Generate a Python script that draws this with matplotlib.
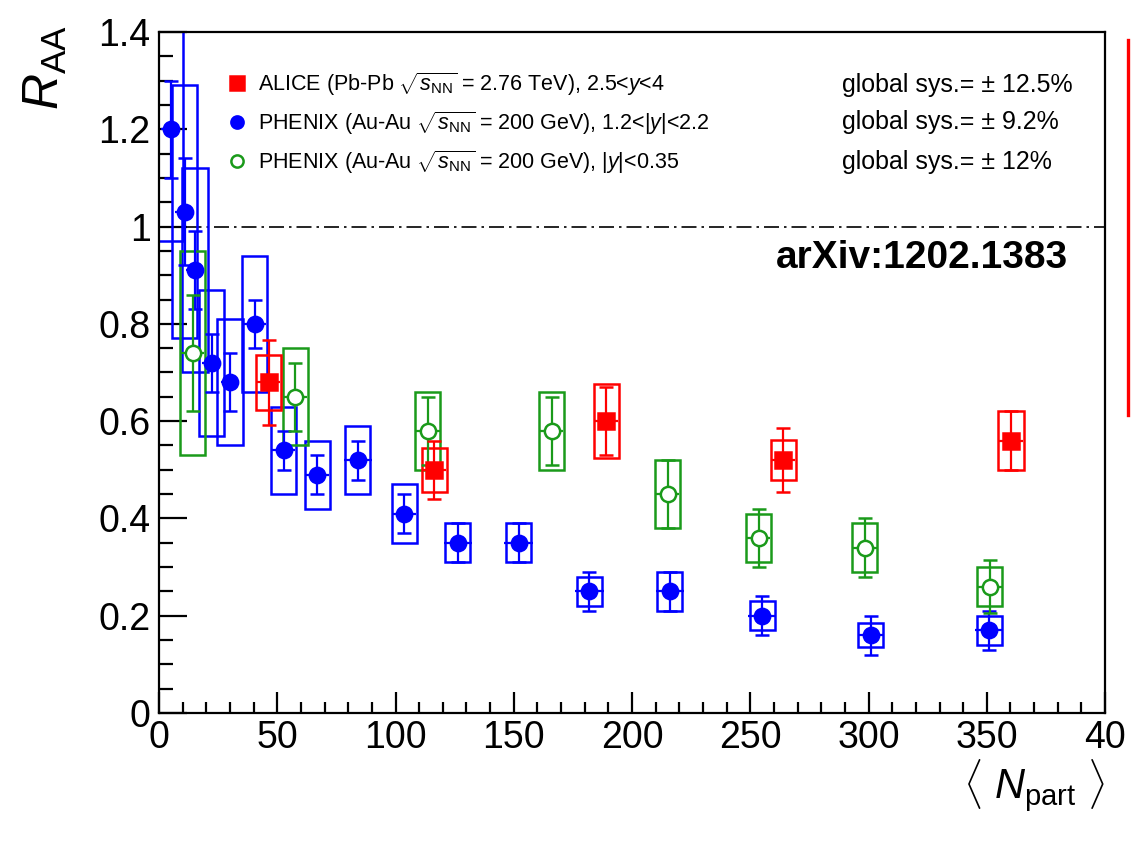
import matplotlib
matplotlib.use('Agg')
import matplotlib.pyplot as plt
from matplotlib.lines import Line2D
from matplotlib.ticker import MultipleLocator
import numpy as np

plt.rcParams['font.family'] = ['Liberation Sans', 'DejaVu Sans']
plt.rcParams['mathtext.fontset'] = 'custom'
plt.rcParams['mathtext.rm'] = 'Liberation Sans'
plt.rcParams['mathtext.it'] = 'Liberation Sans:italic'
plt.rcParams['mathtext.bf'] = 'Liberation Sans:bold'

# ALICE (Pb-Pb 2.76 TeV), 2.5<y<4
alice_npart = [46.3, 116.4, 189.0, 264.0, 360.2]
alice_raa = [0.68, 0.50, 0.60, 0.52, 0.56]
alice_stat = [0.087, 0.06, 0.07, 0.066, 0.06]
alice_sys = [0.057, 0.045, 0.076, 0.042, 0.06]
alice_xerr = [5, 5, 5, 5, 5]

# PHENIX (Au-Au 200 GeV), 1.2<|y|<2.2
fwd_npart = [5.0, 10.8, 15.2, 22.2, 30.0, 40.4, 52.7, 67.0, 84.0, 103.7,
             126.3, 152.0, 182.0, 216.0, 255.0, 301.0, 351.0]
fwd_raa = [1.20, 1.03, 0.91, 0.72, 0.68, 0.80, 0.54, 0.49, 0.52, 0.41,
           0.35, 0.35, 0.25, 0.25, 0.20, 0.16, 0.17]
fwd_stat = [0.10, 0.11, 0.08, 0.06, 0.06, 0.05, 0.04, 0.04, 0.04, 0.04,
            0.04, 0.04, 0.04, 0.04, 0.04, 0.04, 0.04]
fwd_sys = [0.23, 0.26, 0.21, 0.15, 0.13, 0.14, 0.09, 0.07, 0.07, 0.06,
           0.04, 0.04, 0.03, 0.04, 0.03, 0.025, 0.03]
fwd_xerr = [4, 4, 4, 4, 4, 5, 5, 5, 6, 5, 6, 6, 6, 6, 6, 5, 6]

# PHENIX (Au-Au 200 GeV), |y|<0.35
mid_npart = [14.2, 57.6, 113.7, 166.0, 215.0, 253.5, 298.4, 351.3]
mid_raa = [0.74, 0.65, 0.58, 0.58, 0.45, 0.36, 0.34, 0.26]
mid_stat = [0.12, 0.07, 0.07, 0.07, 0.07, 0.06, 0.06, 0.055]
mid_sys = [0.21, 0.10, 0.08, 0.08, 0.07, 0.05, 0.05, 0.04]
mid_xerr = [5, 5, 5, 5, 5, 5, 5, 5]

labels = [r'ALICE (Pb-Pb $\sqrt{s_{\rm NN}}$ = 2.76 TeV), 2.5<$y$<4',
          r'PHENIX (Au-Au $\sqrt{s_{\rm NN}}$ = 200 GeV), 1.2<|$y$|<2.2',
          r'PHENIX (Au-Au $\sqrt{s_{\rm NN}}$ = 200 GeV), |$y$|<0.35']
global_sys = ['global sys.= ± 12.5%', 'global sys.= ± 9.2%', 'global sys.= ± 12%']

BOX_HW = 5.3
GREEN = '#1a9a1a'


def draw(ax, x, y, stat, sys, xerr, color, marker, ms, mfc):
    y = np.array(y)
    sys = np.array(sys)
    ax.bar(x, 2 * sys, width=2 * BOX_HW, bottom=y - sys, fill=False,
           edgecolor=color, linewidth=1.8, zorder=2)
    ax.errorbar(x, y, xerr=xerr, fmt='none', ecolor=color, elinewidth=1.6, zorder=3)
    eb = ax.errorbar(x, y, yerr=stat, fmt=marker, color=color, ms=ms, mfc=mfc,
                     mec=color, mew=1.8, elinewidth=1.6, capsize=5, capthick=1.6,
                     zorder=4)
    return eb[0]


fig = plt.figure(figsize=(11.31, 8.44), dpi=100)
ax = fig.add_axes([0.1406, 0.1552, 0.9771 - 0.1406, 0.9621 - 0.1552])

h_fwd = draw(ax, fwd_npart, fwd_raa, fwd_stat, fwd_sys, fwd_xerr, 'blue', 'o', 11, 'blue')
h_mid = draw(ax, mid_npart, mid_raa, mid_stat, mid_sys, mid_xerr, GREEN, 'o', 11, 'white')
h_alice = draw(ax, alice_npart, alice_raa, alice_stat, alice_sys, alice_xerr, 'red', 's', 12, 'red')

ax.axhline(1.0, color='black', lw=1.2, linestyle=(0, (9, 3, 1.5, 3)), zorder=1)

ax.set_xlim(0, 400)
ax.set_ylim(0, 1.4)
ax.xaxis.set_minor_locator(MultipleLocator(10))
ax.yaxis.set_minor_locator(MultipleLocator(0.05))
ax.set_xticks(np.arange(0, 401, 50))
ax.set_xticklabels(['0', '50', '100', '150', '200', '250', '300', '350', '40'])
ax.set_yticks(np.arange(0, 1.41, 0.2))
ax.set_yticklabels(['0', '0.2', '0.4', '0.6', '0.8', '1', '1.2', '1.4'])
ax.tick_params(which='both', direction='in', top=False, right=False, width=1.6,
               labelsize=27, colors='black')
ax.tick_params(axis='y', which='major', length=20, pad=6)
ax.tick_params(axis='y', which='minor', length=10)
ax.tick_params(axis='x', which='major', length=15, pad=5)
ax.tick_params(axis='x', which='minor', length=8)
for s in ax.spines.values():
    s.set_linewidth(1.6)

ax.set_ylabel(r'$R_{\rm AA}$', fontsize=36, loc='top')
ax.yaxis.set_label_coords(-0.095, 1.01)
ax.set_xlabel(r'$\langle\ N_{\rm part}\ \rangle$', fontsize=30, loc='right')
ax.xaxis.set_label_coords(1.0, -0.066)

leg = ax.legend([h_alice, h_fwd, h_mid], labels, loc='upper left',
                bbox_to_anchor=(0.071, 0.944), frameon=False, fontsize=15.5,
                handlelength=1.0, handletextpad=0.5, labelspacing=0.52,
                borderaxespad=0, borderpad=0, markerscale=0.8)
for i, t in enumerate(global_sys):
    ax.text(0.722, [0.922, 0.868, 0.809][i], t, transform=ax.transAxes,
            fontsize=18, va='center', ha='left')

ax.text(0.652, 0.668, 'arXiv:1202.1383', transform=ax.transAxes, fontsize=28,
        fontweight='bold', va='center', ha='left')

fig.add_artist(Line2D([0.9973, 0.9973], [0.508, 0.9526], transform=fig.transFigure,
                      color='red', lw=2.4))

fig.savefig('out.png', dpi=100)
